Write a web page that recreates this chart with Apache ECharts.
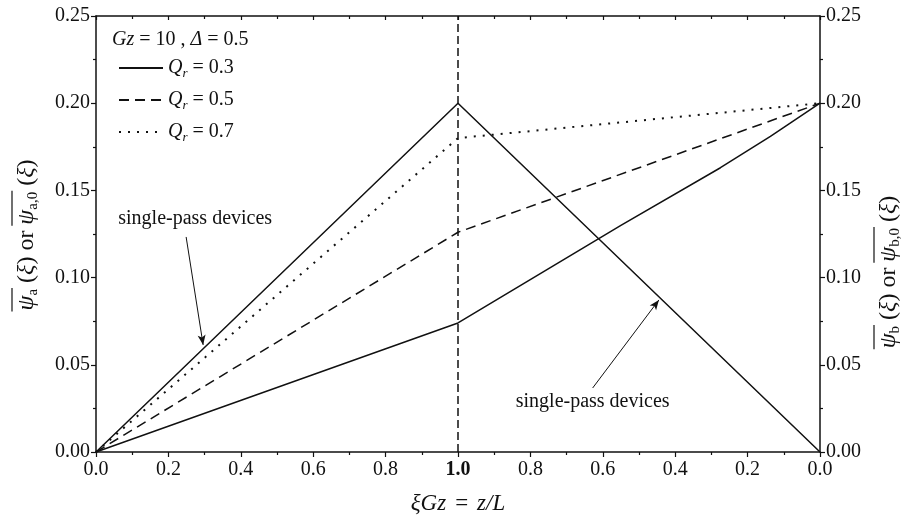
<!DOCTYPE html>
<html>
<head>
<meta charset="utf-8">
<script src="https://cdn.jsdelivr.net/npm/echarts@6/dist/echarts.min.js"></script>
<style>
  html, body { margin: 0; padding: 0; background: #ffffff; }
  #chart { width: 914px; height: 520px; }
</style>
</head>
<body>
<div id="chart"></div>
<script>
const FONT = '"Liberation Serif", "Times New Roman", serif';
const INK = '#111111';

// ξGz runs 0 → 1 through device a, then back 1 → 0 through device b (plotted on 1 → 2)
const xTickLabels = ['0.0', '0.2', '0.4', '0.6', '0.8', '1.0', '0.8', '0.6', '0.4', '0.2', '0.0'];
const yTickLabels = ['0.00', '0.05', '0.10', '0.15', '0.20', '0.25'];

// single-pass devices
const singlePassX = [0, 1, 2];
const singlePassY = [0, 0.200, 0];

// recycle devices, Gz = 10, Δ = 0.5
const qr03X = [0, 1, 1.45, 1.725, 1.863, 2];
const qr03Y = [0, 0.074, 0.130, 0.163, 0.181, 0.200];
const qr05X = [0, 1, 2];
const qr05Y = [0, 0.126, 0.200];
const qr07X = [0, 1, 2];
const qr07Y = [0, 0.180, 0.200];

const seriesNames = ['Qr = 0.3', 'Qr = 0.5', 'Qr = 0.7'];

// annotation anchors, in axis units
const leftNote = { text: [0.274, 0.134], from: [0.249, 0.1233], to: [0.296, 0.0614] };
const rightNote = { text: [1.372, 0.0287], from: [1.372, 0.0367], to: [1.555, 0.0872] };

const zip = (xs, ys) => xs.map((x, i) => [x, ys[i]]);

const measureCtx = document.createElement('canvas').getContext('2d');
function textWidth(str, size, italic) {
  measureCtx.font = (italic ? 'italic ' : '') + size + 'px ' + FONT;
  return measureCtx.measureText(str).width;
}

// rotated axis title: ψ̄_sub (ξ) or ψ̄_sub,0 (ξ)
function sideTitle(sub, cx, cy) {
  const big = 24, small = 15;
  const tokens = [
    ['psi', 'ψ', big, true], ['sub', sub, small, false],
    ['n', ' (', big, false], ['xi', 'ξ', big, true], ['n', ') or ', big, false],
    ['psi', 'ψ', big, true], ['sub', sub + ',0', small, false],
    ['n', ' (', big, false], ['xi', 'ξ', big, true], ['n', ')', big, false]
  ];
  const widths = tokens.map(t => textWidth(t[1], t[2], t[3]));
  const total = widths.reduce((a, b) => a + b, 0);
  let pos = -total / 2;
  const starts = widths.map(w => { const s = pos; pos += w; return s; });
  const bars = [0, 5].map(i => ({
    type: 'line',
    shape: { x1: starts[i] - 1, y1: -15, x2: starts[i + 1] + widths[i + 1] + 1, y2: -15 },
    style: { stroke: INK, lineWidth: 1.2 }
  }));
  return {
    type: 'group',
    x: cx, y: cy,
    rotation: Math.PI / 2,
    silent: true,
    children: [{
      type: 'text',
      x: 0, y: 0,
      style: {
        text: tokens.map(t => '{' + t[0] + '|' + t[1] + '}').join(''),
        align: 'center',
        verticalAlign: 'middle',
        fill: INK,
        rich: {
          psi: { fontFamily: FONT, fontStyle: 'italic', fontSize: big, lineHeight: 28, fill: INK },
          xi: { fontFamily: FONT, fontStyle: 'italic', fontSize: big, lineHeight: 28, fill: INK },
          n: { fontFamily: FONT, fontSize: big, lineHeight: 28, fill: INK },
          sub: { fontFamily: FONT, fontSize: small, lineHeight: 17, verticalAlign: 'bottom', fill: INK }
        }
      }
    }].concat(bars)
  };
}

const chart = echarts.init(document.getElementById('chart'), null, { renderer: 'canvas' });

const axisText = { fontFamily: FONT, fontSize: 20, color: INK };
const lineBase = { color: INK, width: 1.5 };

const option = {
  backgroundColor: '#ffffff',
  animation: false,
  color: [INK, INK, INK, INK],
  grid: { left: 96, right: 94, top: 16, bottom: 68, containLabel: false },
  legend: {
    data: seriesNames,
    orient: 'vertical',
    left: 113,
    top: 53,
    itemWidth: 44,
    itemHeight: 14,
    itemGap: 10,
    selectedMode: false,
    itemStyle: { opacity: 0, borderWidth: 0 },
    formatter: name => '{q|Q}{r|r}{t|' + name.slice(2) + '}',
    textStyle: {
      rich: {
        q: { fontFamily: FONT, fontStyle: 'italic', fontSize: 20, lineHeight: 24, color: INK },
        r: { fontFamily: FONT, fontStyle: 'italic', fontSize: 13, lineHeight: 14, verticalAlign: 'bottom', color: INK },
        t: { fontFamily: FONT, fontSize: 20, lineHeight: 24, color: INK }
      }
    }
  },
  xAxis: [{
    type: 'value',
    position: 'bottom',
    min: 0, max: 2, interval: 0.2,
    name: '{a|ξGz}{s|=}{a|z/L}',
    nameLocation: 'middle',
    nameGap: 40,
    nameTextStyle: {
      rich: {
        a: { fontFamily: FONT, fontStyle: 'italic', fontSize: 23, color: INK },
        s: { fontFamily: FONT, fontSize: 23, color: INK, padding: [0, 9, 0, 9] }
      }
    },
    axisLine: { show: true, onZero: false, lineStyle: { color: INK, width: 1.5 } },
    axisTick: { show: true, inside: false, length: 5, lineStyle: { color: INK, width: 1.2 } },
    minorTick: { show: true, splitNumber: 2, length: 3, lineStyle: { color: INK, width: 1.2 } },
    splitLine: { show: false },
    axisLabel: {
      ...axisText,
      margin: 8,
      showMinLabel: true, showMaxLabel: true,
      formatter: v => {
        const i = Math.round(v / 0.2);
        return i === 5 ? '{b|' + xTickLabels[i] + '}' : xTickLabels[i];
      },
      rich: { b: { fontFamily: FONT, fontSize: 20, fontWeight: 'bold', color: INK } }
    }
  }, {
    type: 'value',
    position: 'top',
    min: 0, max: 2, interval: 0.2,
    axisLine: { show: true, onZero: false, lineStyle: { color: INK, width: 1.5 } },
    axisTick: { show: true, inside: true, length: 4, lineStyle: { color: INK, width: 1.2 } },
    minorTick: { show: true, splitNumber: 2, length: 3, lineStyle: { color: INK, width: 1.2 } },
    splitLine: { show: false },
    axisLabel: { show: false }
  }],
  yAxis: [{
    type: 'value',
    position: 'left',
    min: 0, max: 0.25, interval: 0.05,
    axisLine: { show: true, onZero: false, lineStyle: { color: INK, width: 1.5 } },
    axisTick: { show: true, inside: false, length: 5, lineStyle: { color: INK, width: 1.2 } },
    minorTick: { show: true, splitNumber: 2, length: 3, lineStyle: { color: INK, width: 1.2 } },
    splitLine: { show: false },
    axisLabel: { ...axisText, margin: 6, formatter: v => yTickLabels[Math.round(v / 0.05)] }
  }, {
    type: 'value',
    position: 'right',
    min: 0, max: 0.25, interval: 0.05,
    axisLine: { show: true, onZero: false, lineStyle: { color: INK, width: 1.5 } },
    axisTick: { show: true, inside: false, length: 5, lineStyle: { color: INK, width: 1.2 } },
    minorTick: { show: true, splitNumber: 2, length: 3, lineStyle: { color: INK, width: 1.2 } },
    splitLine: { show: false },
    axisLabel: { ...axisText, margin: 6, formatter: v => yTickLabels[Math.round(v / 0.05)] }
  }],
  series: [{
    type: 'line',
    name: 'single-pass devices',
    data: zip(singlePassX, singlePassY),
    symbol: 'none',
    silent: true,
    lineStyle: { ...lineBase, type: 'solid' },
    markLine: {
      silent: true,
      animation: false,
      label: { show: false },
      data: [
        [
          { xAxis: 1, yAxis: 0, symbol: 'none', lineStyle: { type: [8, 4], width: 1.5, color: INK } },
          { xAxis: 1, yAxis: 0.25, symbol: 'none' }
        ],
        [
          { coord: leftNote.from, symbol: 'none', lineStyle: { type: 'solid', width: 1, color: INK } },
          { coord: leftNote.to, symbol: 'arrow', symbolSize: [6, 10] }
        ],
        [
          { coord: rightNote.from, symbol: 'none', lineStyle: { type: 'solid', width: 1, color: INK } },
          { coord: rightNote.to, symbol: 'arrow', symbolSize: [6, 10] }
        ]
      ],
      itemStyle: { color: INK },
      lineStyle: { color: INK, width: 1, type: 'solid' }
    },
    markPoint: {
      silent: true,
      symbol: 'circle',
      symbolSize: 1,
      itemStyle: { color: 'rgba(0,0,0,0)' },
      label: { show: true, position: 'inside', fontFamily: FONT, fontSize: 20, color: INK, formatter: 'single-pass devices' },
      data: [{ coord: leftNote.text }, { coord: rightNote.text }]
    }
  }, {
    type: 'line',
    name: seriesNames[0],
    data: zip(qr03X, qr03Y),
    symbol: 'none',
    silent: true,
    lineStyle: { ...lineBase, type: 'solid' }
  }, {
    type: 'line',
    name: seriesNames[1],
    data: zip(qr05X, qr05Y),
    symbol: 'none',
    silent: true,
    lineStyle: { ...lineBase, type: [10, 6] }
  }, {
    type: 'line',
    name: seriesNames[2],
    data: zip(qr07X, qr07Y),
    symbol: 'none',
    silent: true,
    lineStyle: { color: INK, width: 2, type: [2, 7] }
  }],
  graphic: [
    {
      type: 'text',
      left: 112,
      top: 30,
      silent: true,
      style: {
        text: '{i|Gz}{n| = 10 , }{i|Δ}{n| = 0.5}',
        rich: {
          i: { fontFamily: FONT, fontStyle: 'italic', fontSize: 20, fill: INK },
          n: { fontFamily: FONT, fontSize: 20, fill: INK }
        }
      }
    },
    sideTitle('a', 27, 235),
    sideTitle('b', 889, 272)
  ]
};

chart.setOption(option);
</script>
</body>
</html>
